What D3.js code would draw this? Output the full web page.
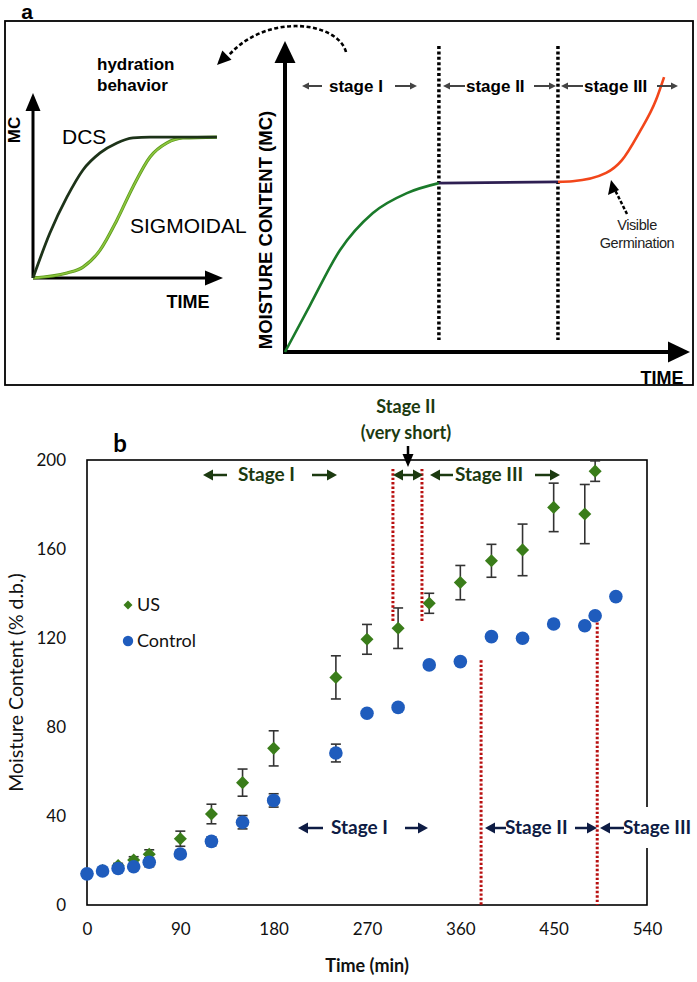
<!DOCTYPE html>
<html><head><meta charset="utf-8">
<script src="https://cdn.jsdelivr.net/npm/d3@7"></script>
<style>body{margin:0;background:#fff}svg{display:block}</style>
</head><body>
<script>
// ---------- Panel b data ----------
const controlTime = [0,15,30,45,60,90,120,150,180,240,270,300,330,360,390,420,450,480,490,510];
const controlMC   = [14,15.3,16.4,17.2,19.2,22.9,28.6,37.2,47,68.3,86.2,88.8,107.9,109.4,120.6,119.9,126.3,125.5,130,138.6];
const controlErr  = [1,1,1,1,2,1.5,2,3,3,4,1,1,1.5,1.5,1,1.5,1,1.5,1,1];
const usTime = [0,15,30,45,60,90,120,150,180,240,270,300,330,360,390,420,450,480,490];
const usMC   = [14,15.5,17.7,20.2,22.8,29.8,40.9,55,70.4,102.3,119.4,124.4,135.6,144.9,154.7,159.6,178.7,175.7,195];
const usErr  = [1,1,1,1.5,2,3.4,4.4,6.1,7.9,9.7,6.7,9.1,4.5,7.7,7.4,11.6,10.9,13.3,4.6];
const xTicks = [0,90,180,270,360,450,540];
const yTicks = [0,40,80,120,160,200];
// stage boundary lines (time, from MC, to MC)
const usStageLines      = [[295,196,127],[323,196,127]];
const controlStageLines = [[380,110,0],[492,127,0]];

// ---------- Panel a schematic curves (relative units 0-100) ----------
const dcsCurve = [[0,0],[8.9,24.3],[17.9,43.8],[26.3,58.4],[35.3,67.6],[44.2,73],[52.6,75.7],[61.6,76.2],[96.8,76.2]];
const sigmoidCurve = [[0,0],[17.9,2.7],[26.3,5.9],[35.3,15.1],[44.2,31.4],[52.6,49.2],[61.6,65.4],[70.5,73],[78.9,75.7],[96.8,76.2]];
const stage1Curve = [[0,0],[6.2,15.1],[13.6,32.8],[21.7,44.7],[30.1,51.1],[38,54.3]];
const stage2Curve = [[38,54.3],[67.4,54.7]];
const stage3Curve = [[67.4,54.7],[71,54.9],[79.3,57.6],[83.2,61.7],[87.4,70.4],[91.6,81],[93.6,88.4]];
const stageBounds = [38,67.4];

const W = 697, H = 982;
const svg = d3.select("body").append("svg").attr("width", W).attr("height", H);

function arrow(g, x1, y1, x2, y2, color, w, hl, hw) {
  const a = Math.atan2(y2 - y1, x2 - x1);
  const bx = x2 - hl * Math.cos(a), by = y2 - hl * Math.sin(a);
  g.append("line").attr("x1", x1).attr("y1", y1).attr("x2", bx).attr("y2", by)
    .attr("stroke", color).attr("stroke-width", w);
  head(g, x1, y1, x2, y2, color, hl, hw);
}
function head(g, x1, y1, x2, y2, color, hl, hw) {
  const a = Math.atan2(y2 - y1, x2 - x1);
  const bx = x2 - hl * Math.cos(a), by = y2 - hl * Math.sin(a);
  const px = -Math.sin(a) * hw / 2, py = Math.cos(a) * hw / 2;
  g.append("path").attr("d", `M${x2},${y2}L${bx + px},${by + py}L${bx - px},${by - py}Z`).attr("fill", color);
}

// ================= PANEL A =================
const A = svg.append("g").attr("font-family", "'Liberation Sans', Arial, sans-serif");
A.append("text").attr("x", 27).attr("y", 19).attr("text-anchor", "middle")
  .attr("font-size", 21).attr("font-weight", "bold").text("a");
A.append("rect").attr("x", 5).attr("y", 21).attr("width", 688).attr("height", 364)
  .attr("fill", "none").attr("stroke", "#000").attr("stroke-width", 1.8);

// inset
const ix = d3.scaleLinear().domain([0, 100]).range([33, 223]);
const iy = d3.scaleLinear().domain([0, 100]).range([278, 93]);
arrow(A, ix(0), iy(0), ix(0), iy(100), "#000", 3, 18, 15);
arrow(A, ix(0), iy(0), ix(100), iy(0), "#000", 3, 18, 15);
const iline = d3.line().x(d => ix(d[0])).y(d => iy(d[1])).curve(d3.curveMonotoneX);
A.append("path").attr("d", iline(sigmoidCurve)).attr("fill", "none").attr("stroke", "#5c9a1c").attr("stroke-width", 3.2);
A.append("path").attr("d", iline(sigmoidCurve)).attr("fill", "none").attr("stroke", "#8dc63f").attr("stroke-width", 1.6);
A.append("path").attr("d", iline(dcsCurve)).attr("fill", "none").attr("stroke", "#1d3319").attr("stroke-width", 2.8);
A.append("text").attr("x", 62).attr("y", 144).attr("font-size", 21).text("DCS");
A.append("text").attr("x", 130).attr("y", 233).attr("font-size", 21).text("SIGMOIDAL");
A.append("text").attr("transform", "translate(20,130) rotate(-90)").attr("text-anchor", "middle")
  .attr("font-size", 17).attr("font-weight", "bold").text("MC");
A.append("text").attr("x", 188).attr("y", 308).attr("text-anchor", "middle")
  .attr("font-size", 18).attr("font-weight", "bold").text("TIME");
A.append("text").attr("x", 97).attr("y", 70).attr("font-size", 17).attr("font-weight", "bold").text("hydration");
A.append("text").attr("x", 97).attr("y", 91).attr("font-size", 17).attr("font-weight", "bold").text("behavior");

// dashed arc
A.append("path").attr("d", "M346,52 C338,22 268,12 229,55").attr("fill", "none").attr("stroke", "#000")
  .attr("stroke-width", 2.6).attr("stroke-dasharray", "4,2.5");
head(A, 240, 42, 217, 65, "#000", 14, 13);

// main schematic
const bx = d3.scaleLinear().domain([0, 100]).range([285, 690]);
const by = d3.scaleLinear().domain([0, 100]).range([352, 41]);
arrow(A, bx(0), by(0), bx(0), by(100), "#000", 4, 22, 21);
arrow(A, bx(0) - 2, by(0), bx(100), by(0), "#000", 4, 22, 21);
stageBounds.forEach(s => {
  A.append("line").attr("x1", bx(s)).attr("x2", bx(s)).attr("y1", 46).attr("y2", 340)
    .attr("stroke", "#000").attr("stroke-width", 3.5).attr("stroke-dasharray", "3,2.4");
});
const bline = d3.line().x(d => bx(d[0])).y(d => by(d[1])).curve(d3.curveMonotoneX);
A.append("path").attr("d", bline(stage1Curve)).attr("fill", "none").attr("stroke", "#1a7a2a").attr("stroke-width", 2.6);
A.append("path").attr("d", bline(stage2Curve)).attr("fill", "none").attr("stroke", "#2e1f52").attr("stroke-width", 2.6);
A.append("path").attr("d", bline(stage3Curve)).attr("fill", "none").attr("stroke", "#f2461a").attr("stroke-width", 2.6);
A.append("text").attr("transform", "translate(272,230) rotate(-90)").attr("text-anchor", "middle")
  .attr("font-size", 18.5).attr("font-weight", "bold").text("MOISTURE CONTENT (MC)");
A.append("text").attr("x", 662).attr("y", 384).attr("text-anchor", "middle")
  .attr("font-size", 18).attr("font-weight", "bold").text("TIME");

// stage labels a
const sa = A.append("g").attr("font-size", 17).attr("font-weight", "bold");
const ya = 86, ac = "#444";
arrow(sa, 322, ya, 302, ya, ac, 2, 7, 7);
sa.append("text").attr("x", 329).attr("y", ya + 6).text("stage I");
arrow(sa, 395, ya, 417, ya, ac, 2, 7, 7);
arrow(sa, 465, ya, 443, ya, ac, 2, 7, 7);
sa.append("text").attr("x", 466).attr("y", ya + 6).text("stage II");
arrow(sa, 534, ya, 556, ya, ac, 2, 7, 7);
arrow(sa, 583, ya, 561, ya, ac, 2, 7, 7);
sa.append("text").attr("x", 584).attr("y", ya + 6).text("stage III");
arrow(sa, 657, ya, 678, ya, ac, 2, 7, 7);

A.append("text").attr("x", 637).attr("y", 230).attr("text-anchor", "middle").attr("font-size", 14.5)
  .attr("fill", "#222").attr("letter-spacing", -0.4).text("Visible");
A.append("text").attr("x", 637).attr("y", 248).attr("text-anchor", "middle").attr("font-size", 14.5)
  .attr("fill", "#222").attr("letter-spacing", -0.4).text("Germination");
A.append("line").attr("x1", 627).attr("y1", 214).attr("x2", 615).attr("y2", 190)
  .attr("stroke", "#000").attr("stroke-width", 2.5).attr("stroke-dasharray", "3.5,2");
A.append("path").attr("d", "M611,180 L608,195 L619,190 Z").attr("fill", "#000");

// ================= PANEL B =================
const B = svg.append("g").attr("font-family", "Lato, 'Open Sans', sans-serif");
const x = d3.scaleLinear().domain([0, 540]).range([87, 647]);
const y = d3.scaleLinear().domain([0, 200]).range([905, 460]);

B.append("text").attr("x", 120).attr("y", 452).attr("text-anchor", "middle")
  .attr("font-size", 24).attr("font-weight", "bold").text("b");

// axes with labels (no tick marks)
const xAxis = B.append("g").attr("transform", `translate(0,${y(0)})`)
  .call(d3.axisBottom(x).tickValues(xTicks).tickSize(0).tickPadding(18));
const yAxis = B.append("g").attr("transform", `translate(${x(0)},0)`)
  .call(d3.axisLeft(y).tickValues(yTicks).tickSize(0).tickPadding(21));
[xAxis, yAxis].forEach(a => {
  a.select(".domain").remove();
  a.selectAll("text").attr("font-family", "Lato, sans-serif").attr("font-size", 17).attr("fill", "#111");
});
// plot frame
B.append("rect").attr("x", x(0)).attr("y", y(200)).attr("width", x(540) - x(0)).attr("height", y(0) - y(200))
  .attr("fill", "none").attr("stroke", "#000").attr("stroke-width", 1.6);

B.append("text").attr("transform", `translate(23,${(y(0) + y(200)) / 2}) rotate(-90)`).attr("text-anchor", "middle")
  .attr("font-size", 19.5).attr("fill", "#111").text("Moisture Content (% d.b.)");
B.append("text").attr("x", 367).attr("y", 972).attr("text-anchor", "middle")
  .attr("font-size", 18).attr("font-weight", "bold").attr("fill", "#111").text("Time (min)");

const green = "#3a7d1a", blue = "#1f5cbd", errC = "#333";
function errBars(times, vals, errs) {
  const g = B.append("g").attr("stroke", errC).attr("stroke-width", 1.6);
  times.forEach((t, i) => {
    const cx = x(t), y1 = y(vals[i] - errs[i]), y2 = y(vals[i] + errs[i]);
    g.append("line").attr("x1", cx).attr("x2", cx).attr("y1", y1).attr("y2", y2);
    g.append("line").attr("x1", cx - 5).attr("x2", cx + 5).attr("y1", y1).attr("y2", y1);
    g.append("line").attr("x1", cx - 5).attr("x2", cx + 5).attr("y1", y2).attr("y2", y2);
  });
}
errBars(usTime, usMC, usErr);
B.append("g").selectAll("path").data(usTime).join("path")
  .attr("transform", (t, i) => `translate(${x(t)},${y(usMC[i])}) rotate(45)`)
  .attr("d", d3.symbol().type(d3.symbolSquare).size(85)).attr("fill", green);
errBars(controlTime, controlMC, controlErr);
B.append("g").selectAll("circle").data(controlTime).join("circle")
  .attr("cx", t => x(t)).attr("cy", (t, i) => y(controlMC[i])).attr("r", 6.8).attr("fill", blue);

// stage boundary lines
[...usStageLines, ...controlStageLines].forEach(l => {
  B.append("line").attr("x1", x(l[0])).attr("x2", x(l[0])).attr("y1", y(l[1])).attr("y2", y(l[2]))
    .attr("stroke", "#b80f0f").attr("stroke-width", 3).attr("stroke-dasharray", "2.4,2");
});

// legend
B.append("path").attr("transform", "translate(128,605) rotate(45)")
  .attr("d", d3.symbol().type(d3.symbolSquare).size(40)).attr("fill", green);
B.append("text").attr("x", 137).attr("y", 611).attr("font-size", 18).attr("fill", "#111").text("US");
B.append("circle").attr("cx", 128).attr("cy", 641).attr("r", 5.2).attr("fill", blue);
B.append("text").attr("x", 137).attr("y", 647).attr("font-size", 18).attr("fill", "#111").text("Control");

// top (US) stage annotations
const dg = "#1c3a10";
const st = B.append("g").attr("font-size", 19).attr("font-weight", "bold").attr("fill", dg);
const yt = 475;
B.append("text").attr("x", 406).attr("y", 413).attr("text-anchor", "middle").attr("font-size", 18)
  .attr("font-weight", "bold").attr("fill", dg).text("Stage II");
B.append("text").attr("x", 406).attr("y", 439).attr("text-anchor", "middle").attr("font-size", 18)
  .attr("font-weight", "bold").attr("fill", dg).text("(very short)");
arrow(B, 408, 446, 408, 467, "#000", 2.5, 13, 11);
arrow(st, 227, yt, 203, yt, dg, 2.5, 10, 11);
st.append("text").attr("x", 238).attr("y", yt + 6).text("Stage I");
arrow(st, 312, yt, 337, yt, dg, 2.5, 10, 11);
arrow(st, 408, yt, 393, yt, dg, 2.5, 10, 11);
arrow(st, 408, yt, 423, yt, dg, 2.5, 10, 11);
arrow(st, 453, yt, 430, yt, dg, 2.5, 10, 11);
st.append("text").attr("x", 455).attr("y", yt + 6).text("Stage III");
arrow(st, 535, yt, 560, yt, dg, 2.5, 10, 11);

// bottom (Control) stage annotations
const nv = "#0e1c44";
const sb = B.append("g").attr("font-size", 19).attr("font-weight", "bold").attr("fill", nv);
const yb = 828;
sb.append("rect").attr("x", 623).attr("y", 807).attr("width", 72).attr("height", 41).attr("fill", "#fff");
arrow(sb, 323, yb, 298, yb, nv, 2.5, 10, 11);
sb.append("text").attr("x", 331).attr("y", yb + 6).text("Stage I");
arrow(sb, 405, yb, 428, yb, nv, 2.5, 10, 11);
arrow(sb, 506, yb, 485, yb, nv, 2.5, 10, 11);
sb.append("text").attr("x", 505).attr("y", yb + 6).text("Stage II");
arrow(sb, 575, yb, 597, yb, nv, 2.5, 10, 11);
arrow(sb, 624, yb, 600, yb, nv, 2.5, 10, 11);
sb.append("text").attr("x", 623).attr("y", yb + 6).text("Stage III");
</script>
</body></html>
